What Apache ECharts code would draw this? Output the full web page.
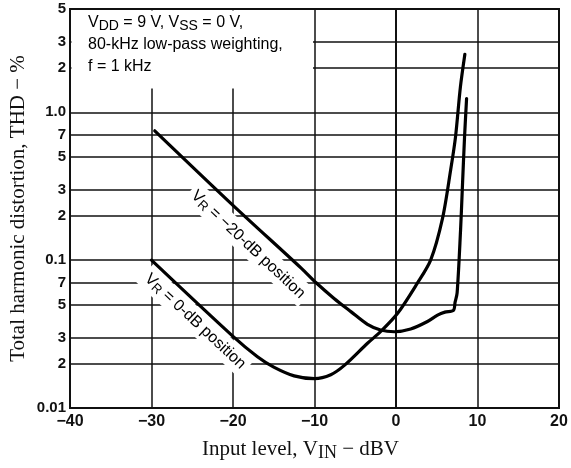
<!DOCTYPE html>
<html>
<head>
<meta charset="utf-8">
<script src="https://cdn.jsdelivr.net/npm/echarts@6/dist/echarts.min.js"></script>
<style>
  html, body { margin: 0; padding: 0; background: #fff; }
  #chart { width: 571px; height: 468px; }
</style>
</head>
<body>
<div id="chart"></div>
<script>
// Input level axis, dBV
const xMin = -40, xMax = 20, xStep = 10;

// THD axis, percent (logarithmic)
const yMin = 0.01, yMax = 5;
const yTickValues = [0.01, 0.02, 0.03, 0.05, 0.07, 0.1, 0.2, 0.3, 0.5, 0.7, 1.0, 2, 3, 5];
const yTickText   = ['0.01', '2', '3', '5', '7', '0.1', '2', '3', '5', '7', '1.0', '2', '3', '5'];

// THD (%) vs input level (dBV), volume control at the -20 dB position
const curveVR20 = [
  [-29.6, 0.75], [-20, 0.235], [-11.6, 0.088],
  [-9.8, 0.0703], [-7.6, 0.0551], [-5.5, 0.0447], [-3.5, 0.0368], [-1.9, 0.0337],
  [-0.2, 0.0328], [1.8, 0.0342], [3.8, 0.0383], [5.1, 0.0425], [6.0, 0.0445],
  [7.05, 0.0458], [7.25, 0.052], [7.5, 0.06], [7.92, 0.159], [8.13, 0.297],
  [8.41, 0.68], [8.66, 1.24]
];

// THD (%) vs input level (dBV), volume control at the 0 dB position
const curveVR0 = [
  [-30, 0.1], [-20, 0.0305], [-17, 0.0222], [-15, 0.0189],
  [-12.5, 0.0165], [-10, 0.0158], [-8, 0.0168], [-6.3, 0.0195], [-3.5, 0.0274],
  [-1.9, 0.0328], [0.2, 0.0437], [2.6, 0.0696], [4.25, 0.1], [5.7, 0.191],
  [6.7, 0.406], [7.3, 0.68], [7.9, 1.48], [8.45, 2.47]
];

const SANS = '"Liberation Sans", Arial, Helvetica, sans-serif';
const SERIF = '"Liberation Serif", "Times New Roman", serif';
const INK = '#111';

const chart = echarts.init(document.getElementById('chart'), null, { renderer: 'canvas' });

const curveStyle = { color: '#000', width: 3.2, cap: 'round', join: 'round' };

chart.setOption({
  animation: false,
  backgroundColor: '#fff',
  grid: {
    left: 68, right: 12, top: 9, bottom: 60,
    show: true, borderColor: INK, borderWidth: 2, backgroundColor: 'transparent'
  },
  xAxis: {
    type: 'value', min: xMin, max: xMax, interval: xStep,
    axisLine: { show: true, lineStyle: { color: INK, width: 2 } },
    axisTick: { show: false },
    splitLine: { show: true, lineStyle: { color: INK, width: 1.5 } },
    axisLabel: {
      margin: 6, color: INK, fontFamily: SANS, fontWeight: 'bold', fontSize: 16,
      formatter: v => (v < 0 ? '\u2212' + (-v) : String(v))
    },
    name: '{t|Input level, V}{s|IN}{t| \u2212 dBV}',
    nameLocation: 'middle', nameGap: 29,
    nameTextStyle: {
      padding: [0, 28, 0, 0],
      rich: {
        t: { fontFamily: SERIF, fontSize: 21, color: INK, lineHeight: 25 },
        s: { fontFamily: SERIF, fontSize: 18, color: INK, lineHeight: 16, verticalAlign: 'bottom' }
      }
    }
  },
  yAxis: {
    type: 'log', logBase: 10, min: yMin, max: yMax,
    axisLine: { show: true, lineStyle: { color: INK, width: 2 } },
    axisTick: { show: false },
    axisLabel: { show: false },
    splitLine: { show: false },
    minorSplitLine: { show: false },
    name: 'Total harmonic distortion, THD \u2212 %',
    nameLocation: 'middle', nameGap: 41,
    nameTextStyle: { fontFamily: SERIF, fontSize: 21, color: INK }
  },
  series: [
    {
      // horizontal grid and its tick labels at 1-2-3-5-7 steps
      type: 'line', data: [], silent: true, clip: false, z: 3,
      markLine: {
        silent: true, z: 3, animation: false,
        symbol: ['none', 'none'],
        lineStyle: { color: INK, width: 1.5, type: 'solid' },
        label: {
          position: 'start', distance: 4, color: INK,
          fontFamily: SANS, fontWeight: 'bold', fontSize: 15
        },
        emphasis: { disabled: true },
        data: yTickValues.map((v, i) => ({ yAxis: v, label: { formatter: yTickText[i] } }))
      }
    },
    {
      name: 'VR -20 dB', type: 'line', data: curveVR20, z: 10,
      showSymbol: false, smooth: 0.3,
      lineStyle: curveStyle, silent: true
    },
    {
      name: 'VR 0 dB', type: 'line', data: curveVR0, z: 10,
      showSymbol: false, smooth: 0.3,
      lineStyle: curveStyle, silent: true
    }
  ]
});

// Overlays: condition box and the curve captions, placed from axis coordinates
const toPx = p => chart.convertToPixel({ xAxisIndex: 0, yAxisIndex: 0 }, p);

const richLabel = {
  t: { fontFamily: SANS, fontSize: 16, color: INK, lineHeight: 19 },
  s: { fontFamily: SANS, fontSize: 13, color: INK, lineHeight: 13, verticalAlign: 'bottom' }
};

function slopeAngle(curve, i, j) {
  const a = toPx(curve[i]), b = toPx(curve[j]);
  return Math.atan2(b[1] - a[1], b[0] - a[0]);
}

function caption(text, at, angle) {
  const p = toPx(at);
  return {
    type: 'text', z: 6, x: p[0], y: p[1], rotation: -angle,
    style: {
      text: text, rich: richLabel, align: 'center', verticalAlign: 'middle',
      backgroundColor: '#fff', padding: [3, 4, 2, 4]
    }
  };
}

const corner = toPx([xMin, yMax]);
const boxEnd = toPx([-10, 1.45]);

chart.setOption({
  graphic: [
    {
      type: 'rect', z: 6, silent: true,
      shape: {
        x: corner[0] + 1.5, y: corner[1] + 1.5,
        width: boxEnd[0] - corner[0] - 3, height: boxEnd[1] - corner[1] - 1.5
      },
      style: { fill: '#fff' }
    },
    {
      type: 'text', z: 7, silent: true, x: corner[0] + 18, y: corner[1] + 2.5,
      style: {
        text: '{t|V}{s|DD}{t| = 9 V, V}{s|SS}{t| = 0 V,}\n{t|80-kHz low-pass weighting,}\n{t|f = 1 kHz}',
        align: 'left', verticalAlign: 'top',
        rich: {
          t: { fontFamily: SANS, fontSize: 16, color: INK, lineHeight: 22 },
          s: { fontFamily: SANS, fontSize: 14, color: INK, lineHeight: 14, verticalAlign: 'bottom' }
        }
      }
    },
    caption('{t|V}{s|R}{t| = \u221220-dB position}', [-18.1, 0.128], slopeAngle(curveVR20, 0, 2)),
    caption('{t|V}{s|R}{t| = 0-dB position}', [-24.6, 0.0387], slopeAngle(curveVR0, 0, 1))
  ]
});
</script>
</body>
</html>
